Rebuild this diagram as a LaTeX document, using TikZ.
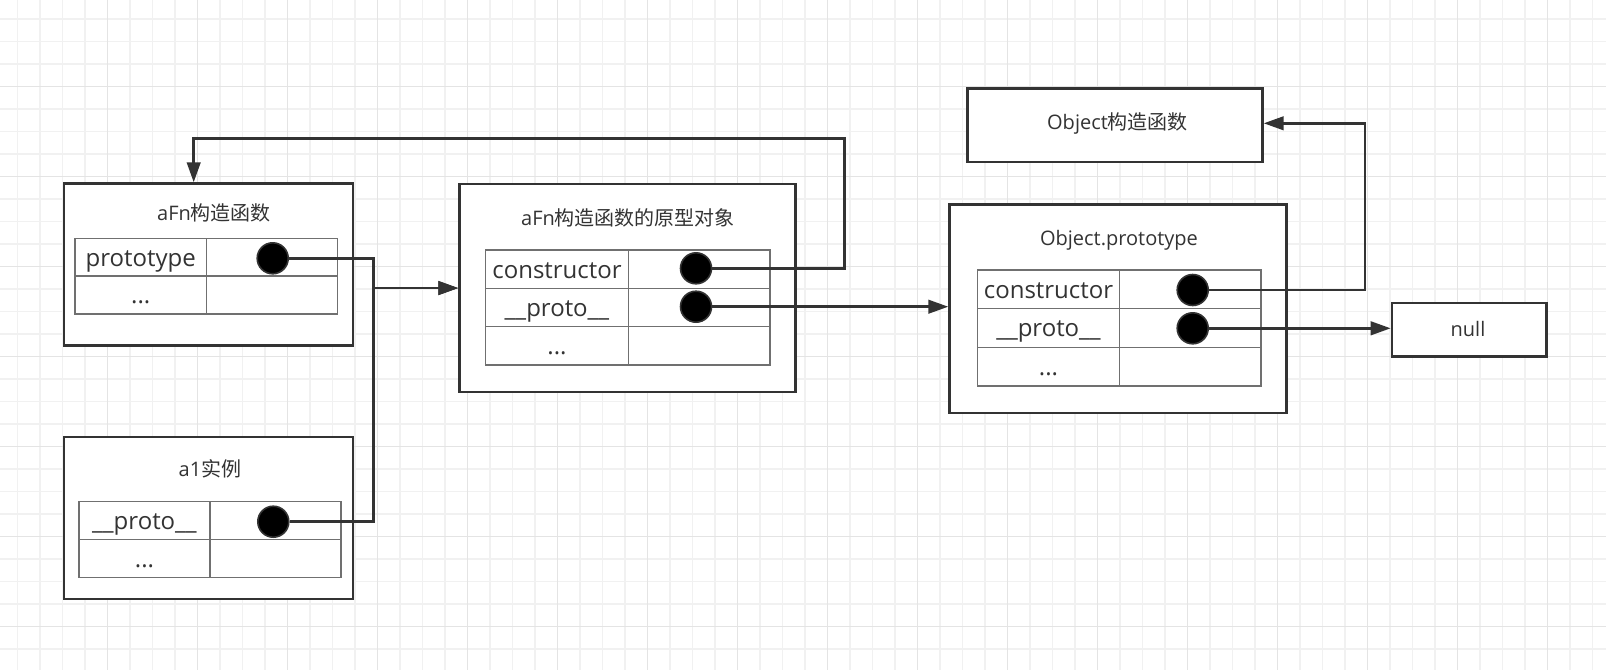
\documentclass[tikz,border=0pt]{standalone}
\usepackage{fontspec}
\setmainfont{Open Sans}
\newfontfamily\cjk{Noto Sans CJK SC}
\usetikzlibrary{arrows.meta}
\definecolor{ink}{HTML}{333333}
\definecolor{cellline}{HTML}{707070}
\definecolor{gridminor}{HTML}{F1F1F1}
\definecolor{gridmajor}{HTML}{E4E4E4}

\begin{document}
\begin{tikzpicture}[x=1pt,y=-1pt,
  box/.style={draw=ink, line width=2.7pt, fill=white, anchor=north west, inner sep=0pt},
  cell/.style={draw=cellline, line width=1.3pt},
  title/.style={anchor=base, text=ink, inner sep=0pt, font=\fontsize{20}{24}\selectfont},
  celltext/.style={anchor=base, text=ink, inner sep=0pt, font=\fontsize{24}{28}\selectfont},
  dot/.style={circle, fill=black, draw=ink, line width=1.6pt, minimum size=31pt, inner sep=0pt},
  conn/.style={draw=ink, line width=2.7pt},
  tip/.style={-{Triangle[length=20pt,width=13.5pt]}}
]
% page and background grid
\fill[white] (0,0) rectangle (1606,670);
\useasboundingbox (0,0) rectangle (1606,670);
\foreach \i in {0,...,71} \draw[gridminor, line width=1.5pt] ({17.7+22.5*\i},0) -- ++(0,670);
\foreach \i in {0,...,29} \draw[gridminor, line width=1.5pt] (0,{19.2+22.5*\i}) -- ++(1606,0);
\foreach \i in {0,...,16} \draw[gridmajor, line width=1.5pt] ({107.7+90*\i},0) -- ++(0,670);
\foreach \i in {0,...,6} \draw[gridmajor, line width=1.5pt] (0,{86.7+90*\i}) -- ++(1606,0);

% outer boxes
\node[box, minimum width=289pt, minimum height=162pt] (afn) at (62.7,182.3) {};
\node[box, minimum width=335.7pt, minimum height=208pt] (proto) at (458.3,182.7) {};
\node[box, minimum width=336.7pt, minimum height=208.4pt] (op) at (948.3,203.3) {};
\node[box, minimum width=295pt, minimum height=73.4pt] (octor) at (966,87.3) {};
\node[box, minimum width=154.3pt, minimum height=53.3pt] (null) at (1390.7,301.7) {};
\node[box, minimum width=289pt, minimum height=162pt] (a1) at (62.7,435.7) {};

% titles
\node[title] (afnT) at (214,220) {aFn{\cjk 构造函数}};
\node[title] (protoT) at (628,225) {aFn{\cjk 构造函数的原型对象}};
\node[title] (opT) at (1119,245) {Object.prototype};
\node[title] (octorT) at (1117.5,129.3) {Object{\cjk 构造函数}};
\node[title] (nullT) at (1468,336) {null};
\node[title] (a1T) at (210,476) {a1{\cjk 实例}};

% aFn table
\draw[cell] (75,238.3) rectangle (337.7,314);
\draw[cell] (75,276) -- (337.7,276);
\draw[cell] (206.3,238.3) -- (206.3,314);
\node[celltext] (afnK1) at (140.7,266) {prototype};
\node[celltext] (afnK2) at (140.7,303.8) {...};

% prototype object table
\draw[cell] (485.7,250) rectangle (770,365);
\draw[cell] (485.7,288.3) -- (770,288.3);
\draw[cell] (485.7,326.7) -- (770,326.7);
\draw[cell] (628.3,250) -- (628.3,365);
\node[celltext] (pK1) at (557,278) {constructor};
\node[celltext] (pK2) at (557,316.3) {\_\_proto\_\_};
\node[celltext] (pK3) at (557,354.6) {...};

% Object.prototype table
\draw[cell] (977.7,270) rectangle (1261,386);
\draw[cell] (977.7,308.7) -- (1261,308.7);
\draw[cell] (977.7,347.3) -- (1261,347.3);
\draw[cell] (1119.3,270) -- (1119.3,386);
\node[celltext] (oK1) at (1048.5,298.2) {constructor};
\node[celltext] (oK2) at (1048.5,336.8) {\_\_proto\_\_};
\node[celltext] (oK3) at (1048.5,375.5) {...};

% a1 table
\draw[cell] (79,501.7) rectangle (341,577.7);
\draw[cell] (79,539.3) -- (341,539.3);
\draw[cell] (210,501.7) -- (210,577.7);
\node[celltext] (aK1) at (144.5,529.3) {\_\_proto\_\_};
\node[celltext] (aK2) at (144.5,567.3) {...};

% pointer dots
\node[dot] (afnP) at (272.7,258.3) {};
\node[dot] (pcP) at (696,268.3) {};
\node[dot] (ppP) at (696,306.7) {};
\node[dot] (ocP) at (1192.7,290) {};
\node[dot] (opP) at (1192.7,328.3) {};
\node[dot] (a1P) at (273.3,521.7) {};

% bend points
\coordinate (j1) at (373.3,286.7);
\coordinate (j2) at (844.3,138.3);
\coordinate (k2) at (193.7,138.3);
\coordinate (j4) at (1365,123.3);

% connectors
\draw[conn, tip] (afnP.east) -- (afnP.east -| j1) |- (proto.west);
\draw[conn, tip] (a1P.east) -- (a1P.east -| j1) |- (proto.west);
\draw[conn, tip] (pcP.east) -| (j2) -- (k2) -- (k2 |- afn.north);
\draw[conn, tip] (ppP.east) -- (ppP.east -| op.west);
\draw[conn, tip] (ocP.east) -| (j4) -- (j4 -| octor.east);
\draw[conn, tip] (opP.east) -- (opP.east -| null.west);
\end{tikzpicture}
\end{document}
